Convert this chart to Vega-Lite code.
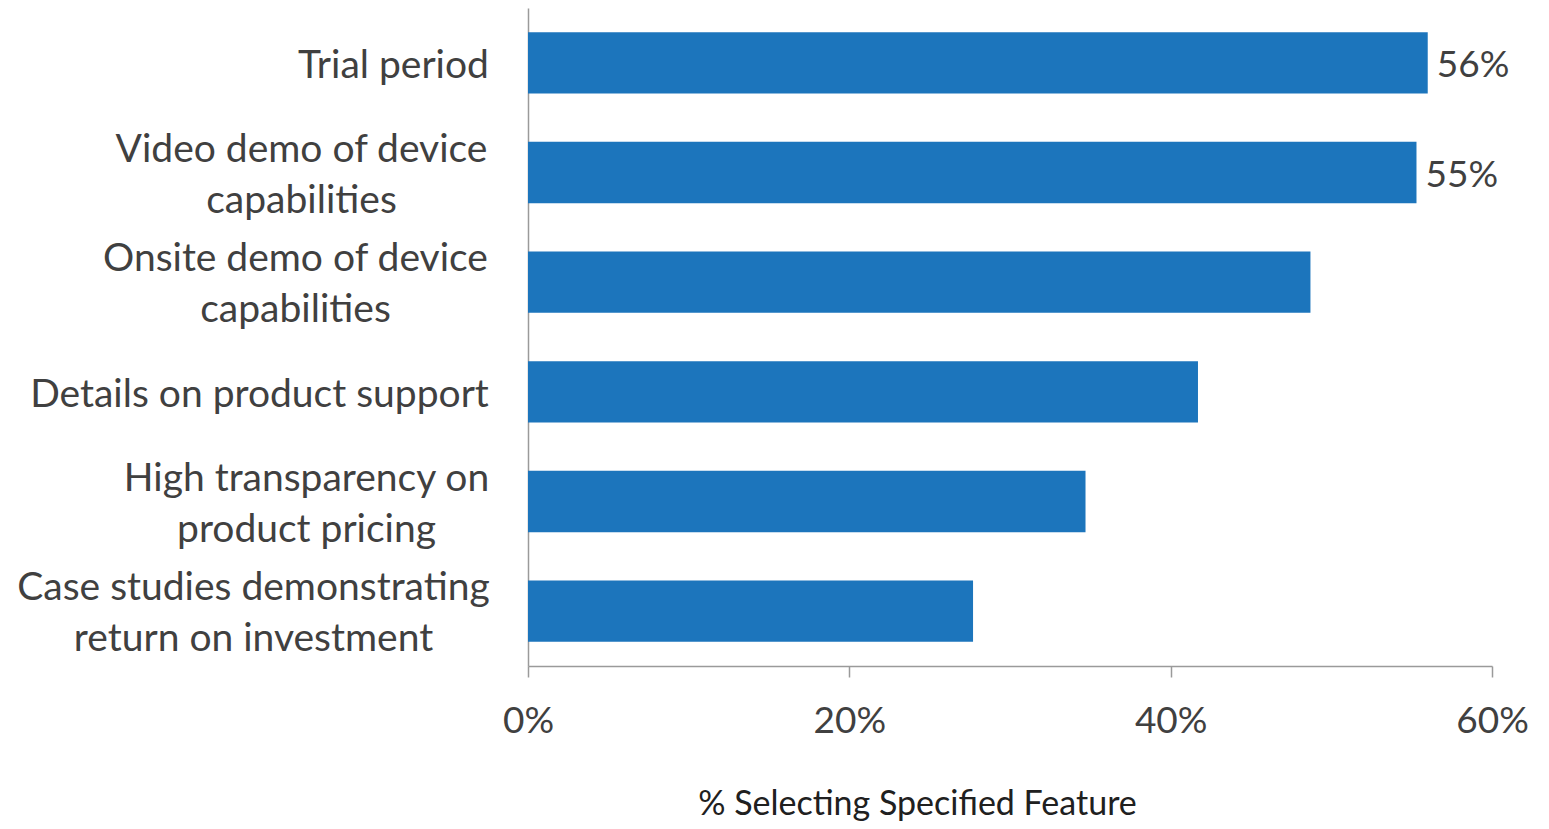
{
  "$schema": "https://vega.github.io/schema/vega-lite/v6.json",
  "width": 964,
  "height": 658,
  "autosize": {"type": "none"},
  "padding": {"left": 528, "top": 8, "right": 57, "bottom": 163},
  "background": "white",
  "config": {
    "view": {"stroke": null},
    "font": "Lato",
    "axis": {"labelFont": "Lato", "titleFont": "Lato", "labelColor": "#404040", "titleColor": "#202020", "titleFontWeight": "normal"}
  },
  "data": {
    "values": [
      {"feature": "Trial period", "share": 0.56, "label": "56%"},
      {"feature": "Video demo of device capabilities", "share": 0.553, "label": "55%"},
      {"feature": "Onsite demo of device capabilities", "share": 0.487, "label": ""},
      {"feature": "Details on product support", "share": 0.417, "label": ""},
      {"feature": "High transparency on product pricing", "share": 0.347, "label": ""},
      {"feature": "Case studies demonstrating return on investment", "share": 0.277, "label": ""}
    ]
  },
  "encoding": {
    "y": {
      "field": "feature",
      "type": "nominal",
      "sort": null,
      "scale": {"paddingInner": 0.44, "paddingOuter": 0.22},
      "axis": {
        "title": null,
        "ticks": false,
        "tickSize": 0,
        "domainColor": "#9a9a9a",
        "domainWidth": 1.5,
        "labelFontSize": 39,
        "labelLimit": 0,
        "labelAlign": "center",
        "labelBaseline": "middle",
        "labelLineHeight": 51,
        "labelExpr": "datum.value == 'Video demo of device capabilities' ? ['Video demo of device', 'capabilities'] : datum.value == 'Onsite demo of device capabilities' ? ['Onsite demo of device', 'capabilities'] : datum.value == 'High transparency on product pricing' ? ['High transparency on', 'product pricing'] : datum.value == 'Case studies demonstrating return on investment' ? ['Case studies demonstrating', 'return on investment'] : datum.value",
        "labelOffset": {
          "condition": {"test": "datum.value == 'Trial period' || datum.value == 'Details on product support'", "value": 3},
          "value": -23
        },
        "labelPadding": {
          "condition": [
            {"test": "datum.value == 'Trial period'", "value": 135},
            {"test": "datum.value == 'Video demo of device capabilities'", "value": 227},
            {"test": "datum.value == 'Onsite demo of device capabilities'", "value": 233},
            {"test": "datum.value == 'Details on product support'", "value": 269},
            {"test": "datum.value == 'High transparency on product pricing'", "value": 222}
          ],
          "value": 275
        }
      }
    }
  },
  "layer": [
    {
      "mark": {"type": "bar", "color": "#1c75bc"},
      "encoding": {
        "x": {
          "field": "share",
          "type": "quantitative",
          "scale": {"domain": [0, 0.6], "nice": false},
          "axis": {
            "title": "% Selecting Specified Feature",
            "format": ".0%",
            "values": [0, 0.2, 0.4, 0.6],
            "grid": false,
            "labelFlush": false,
            "domainColor": "#9a9a9a",
            "domainWidth": 1.5,
            "tickColor": "#9a9a9a",
            "tickWidth": 1.5,
            "tickSize": 11,
            "labelFontSize": 37,
            "labelBaseline": "middle",
            "labelPadding": 44,
            "titleFontSize": 34,
            "titleX": 389,
            "titleY": 138,
            "titleBaseline": "middle",
            "titleAlign": "center",
            "titleAnchor": null
          }
        }
      }
    },
    {
      "mark": {"type": "text", "align": "left", "baseline": "middle", "dx": 9, "dy": 3, "fontSize": 37, "font": "Lato", "color": "#404040"},
      "encoding": {
        "x": {"field": "share", "type": "quantitative"},
        "text": {"field": "label"}
      }
    }
  ]
}
